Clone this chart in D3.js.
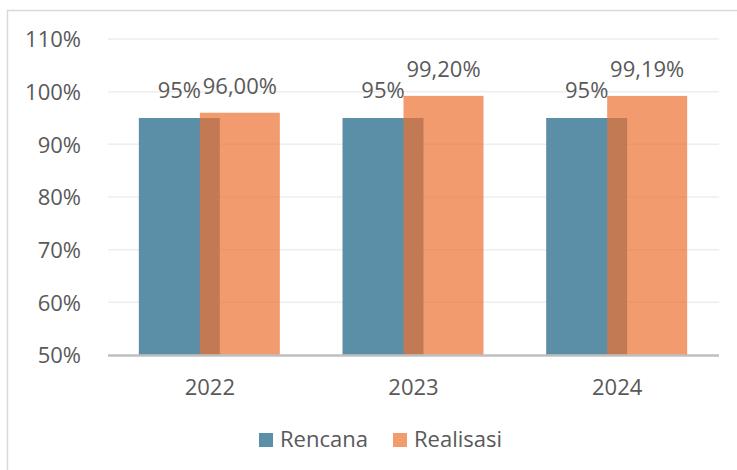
<!DOCTYPE html>
<html>
<head>
<meta charset="utf-8">
<script src="https://cdn.jsdelivr.net/npm/d3@7"></script>
<style>
  html, body { margin: 0; padding: 0; background: #fff; }
  svg { display: block; }
  text { font-family: "Open Sans", "Noto Sans", sans-serif; fill: #595959; }
</style>
</head>
<body>
<svg id="chart" width="737" height="470"></svg>
<script>
const categories = ["2022", "2023", "2024"];
const rencana = [95, 95, 95];
const realisasi = [96.00, 99.20, 99.19];
const rencanaLabels = ["95%", "95%", "95%"];
const realisasiLabels = ["96,00%", "99,20%", "99,19%"];
const yTicks = [50, 60, 70, 80, 90, 100, 110];
const seriesNames = ["Rencana", "Realisasi"];

const svg = d3.select("#chart");
const W = 737, H = 470;
const plot = { left: 108, right: 719, top: 39, bottom: 355 };
const FS = "22px";

// outer frame
svg.append("path")
  .attr("d", `M7.5,${H} L7.5,10.5 L${W},10.5`)
  .attr("fill", "none").attr("stroke", "#d9d9d9").attr("stroke-width", 1.5);

const x = d3.scaleBand().domain(categories).range([plot.left, plot.right]).paddingInner(0).paddingOuter(0);
const y = d3.scaleLinear().domain([50, 110]).range([plot.bottom, plot.top]);

// gridlines
svg.append("g").selectAll("line").data(yTicks.filter(t => t > 50)).join("line")
  .attr("x1", plot.left).attr("x2", plot.right)
  .attr("y1", d => y(d)).attr("y2", d => y(d))
  .attr("stroke", "#eeeeee").attr("stroke-width", 1.5);

// y axis labels
const yAxis = d3.axisLeft(y).tickValues(yTicks).tickSize(0).tickPadding(0).tickFormat(d => d + "%");
const yg = svg.append("g").attr("transform", `translate(81,0)`).call(yAxis);
yg.select(".domain").remove();
yg.selectAll("text").style("font-size", FS).attr("fill", "#595959").attr("dy", "0.36em");

// bars
const barW = 81, overlap = 20;
const cx = c => x(c) + x.bandwidth() / 2;
const blueX = c => cx(c) - barW + overlap / 2;
const orangeX = c => cx(c) - overlap / 2;

svg.append("g").selectAll("rect").data(categories).join("rect")
  .attr("x", c => blueX(c)).attr("width", barW)
  .attr("y", (c, i) => y(rencana[i])).attr("height", (c, i) => plot.bottom - y(rencana[i]))
  .attr("fill", "#5b8fa8");

svg.append("g").selectAll("rect").data(categories).join("rect")
  .attr("x", c => orangeX(c)).attr("width", barW - 1)
  .attr("y", (c, i) => y(realisasi[i])).attr("height", (c, i) => plot.bottom - y(realisasi[i]))
  .attr("fill", "rgb(236,112,48)").attr("fill-opacity", 0.7);

// x axis baseline
svg.append("line")
  .attr("x1", plot.left).attr("x2", plot.right)
  .attr("y1", plot.bottom + 0.5).attr("y2", plot.bottom + 0.5)
  .attr("stroke", "#bfbfbf").attr("stroke-width", 2.5);

// x axis labels
const xAxis = d3.axisBottom(x).tickSize(0).tickPadding(0);
const xg = svg.append("g").attr("transform", `translate(0,${plot.bottom})`).call(xAxis);
xg.select(".domain").remove();
xg.selectAll("text").style("font-size", FS).attr("fill", "#595959").attr("dy", "0").attr("y", 40);

// data labels
svg.append("g").selectAll("text").data(categories).join("text")
  .attr("x", c => blueX(c) + barW / 2)
  .attr("y", (c, i) => y(rencana[i]) - 20)
  .attr("text-anchor", "middle").style("font-size", FS)
  .text((c, i) => rencanaLabels[i]);

svg.append("g").selectAll("text").data(categories).join("text")
  .attr("x", c => orangeX(c) + (barW - 1) / 2)
  .attr("y", (c, i) => y(realisasi[i]) - 19)
  .attr("text-anchor", "middle").style("font-size", FS)
  .text((c, i) => realisasiLabels[i]);

// legend
const legend = svg.append("g");
const legendItems = [
  { name: seriesNames[0], x: 259, color: "#5b8fa8", op: 1 },
  { name: seriesNames[1], x: 393, color: "rgb(236,112,48)", op: 0.7 }
];
legendItems.forEach(d => {
  legend.append("rect").attr("x", d.x).attr("y", 433).attr("width", 14).attr("height", 14)
    .attr("fill", d.color).attr("fill-opacity", d.op);
  legend.append("text").attr("x", d.x + 21).attr("y", 447).style("font-size", FS).text(d.name);
});
</script>
</body>
</html>
